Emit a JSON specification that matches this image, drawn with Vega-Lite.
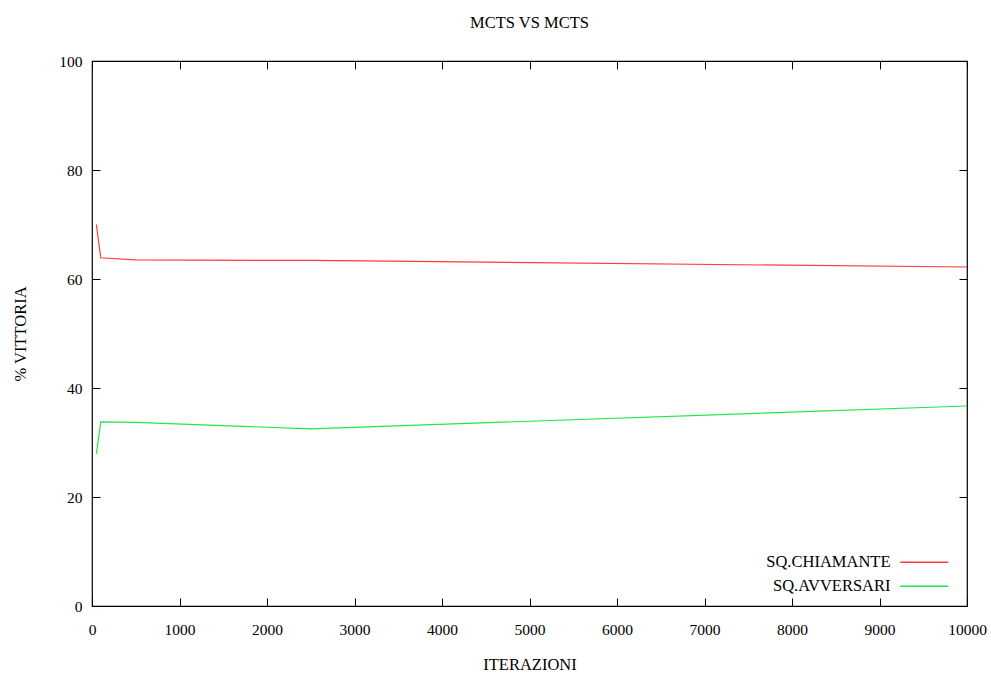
{
  "$schema": "https://vega.github.io/schema/vega-lite/v6.json",
  "width": 875,
  "height": 545,
  "autosize": "none",
  "padding": {"left": 92, "top": 61, "right": 24, "bottom": 69},
  "background": "white",
  "config": {
    "font": "Liberation Serif",
    "view": {"stroke": "#000", "strokeWidth": 1.2},
    "axis": {"grid": false, "domain": false, "labelFont": "Liberation Serif", "titleFont": "Liberation Serif", "labelFontSize": 15.5, "titleFontSize": 16.5, "titleFontWeight": "normal", "labelColor": "#000", "titleColor": "#000", "tickColor": "#000", "tickSize": -8, "tickWidth": 1},
    "legend": {"labelFont": "Liberation Serif"},
    "title": {"font": "Liberation Serif"}
  },
  "title": {"text": "MCTS VS MCTS", "font": "Liberation Serif", "fontSize": 16.5, "fontWeight": "normal", "offset": 23, "color": "#000"},
  "data": {"values": [
    {"iter": 50, "pct": 70.0, "serie": "SQ.CHIAMANTE"},
    {"iter": 100, "pct": 63.9, "serie": "SQ.CHIAMANTE"},
    {"iter": 500, "pct": 63.5, "serie": "SQ.CHIAMANTE"},
    {"iter": 2500, "pct": 63.4, "serie": "SQ.CHIAMANTE"},
    {"iter": 10000, "pct": 62.2, "serie": "SQ.CHIAMANTE"},
    {"iter": 50, "pct": 27.9, "serie": "SQ.AVVERSARI"},
    {"iter": 100, "pct": 33.8, "serie": "SQ.AVVERSARI"},
    {"iter": 500, "pct": 33.7, "serie": "SQ.AVVERSARI"},
    {"iter": 2500, "pct": 32.5, "serie": "SQ.AVVERSARI"},
    {"iter": 10000, "pct": 36.7, "serie": "SQ.AVVERSARI"}
  ]},
  "layer": [
    {
      "mark": {"type": "line", "strokeWidth": 1.2},
      "encoding": {
        "x": {"field": "iter", "type": "quantitative", "scale": {"domain": [0, 10000], "nice": false, "zero": false},
              "axis": {"title": "ITERAZIONI", "values": [0,1000,2000,3000,4000,5000,6000,7000,8000,9000,10000], "format": "d", "labelPadding": 24, "titlePadding": 19, "labelFlush": false}},
        "y": {"field": "pct", "type": "quantitative", "scale": {"domain": [0, 100], "nice": false},
              "axis": {"title": "% VITTORIA", "values": [0,20,40,60,80,100], "labelPadding": 18, "titlePadding": 30}},
        "color": {"field": "serie", "type": "nominal", "sort": ["SQ.CHIAMANTE", "SQ.AVVERSARI"],
                  "scale": {"domain": ["SQ.CHIAMANTE", "SQ.AVVERSARI"], "range": ["#ff3b3b", "#1ee84a"]},
                  "legend": {"title": null, "orient": "none", "legendX": 824, "legendY": 493, "symbolType": "M-4,0H4", "symbolSize": 144, "symbolStrokeWidth": 1.5, "symbolFillColor": "transparent", "labelAlign": "right", "labelOffset": -42, "labelFont": "Liberation Serif", "labelFontSize": 16.5, "labelColor": "#000", "rowPadding": 7}}
      }
    },
    {
      "mark": {"type": "line", "strokeOpacity": 0},
      "encoding": {
        "x": {"field": "iter", "type": "quantitative", "scale": {"domain": [0, 10000], "nice": false, "zero": false},
              "axis": {"orient": "top", "title": null, "labels": false, "values": [0,1000,2000,3000,4000,5000,6000,7000,8000,9000,10000]}},
        "y": {"field": "pct", "type": "quantitative", "scale": {"domain": [0, 100], "nice": false},
              "axis": {"orient": "right", "title": null, "labels": false, "values": [0,20,40,60,80,100]}},
        "detail": {"field": "serie", "type": "nominal"}
      }
    }
  ],
  "resolve": {"axis": {"x": "independent", "y": "independent"}}
}
